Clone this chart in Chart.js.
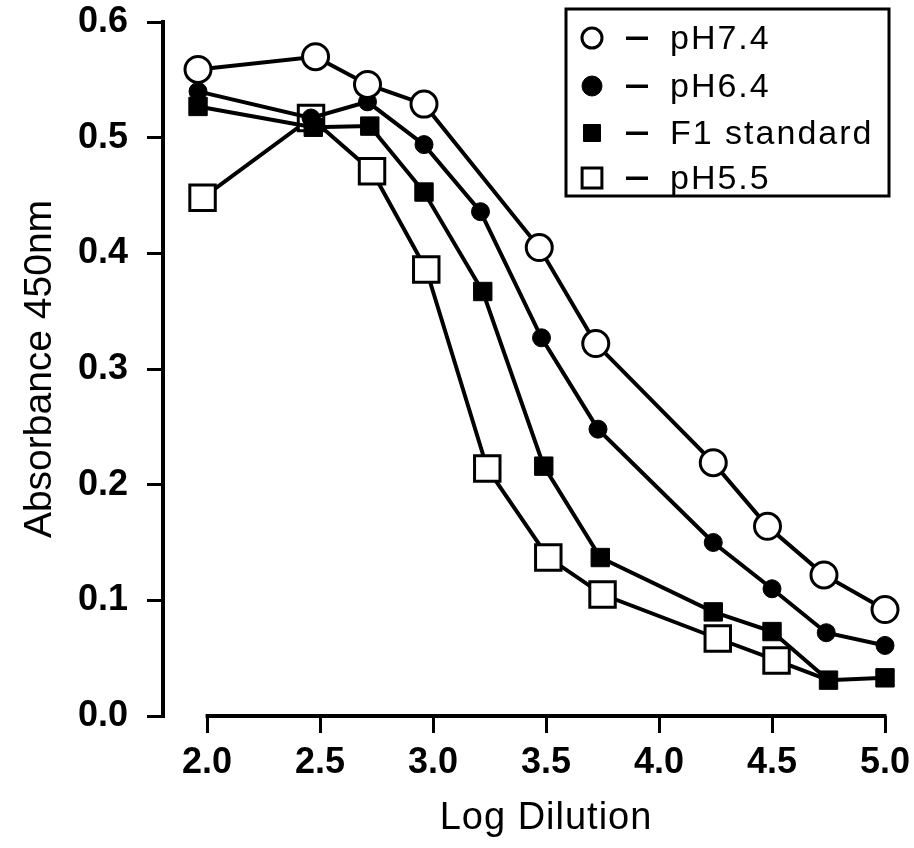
<!DOCTYPE html>
<html>
<head>
<meta charset="utf-8">
<script src="https://cdn.jsdelivr.net/npm/chart.js@4.4.1/dist/chart.umd.min.js"></script>
<style>
  html, body { margin: 0; padding: 0; background: #fff; }
  #wrap { width: 914px; height: 848px; }
</style>
</head>
<body>
<div id="wrap"><canvas id="myChart" width="914" height="848"></canvas></div>
<script>
// tick values
const xTicks = [2.0, 2.5, 3.0, 3.5, 4.0, 4.5, 5.0];
const yTicks = [0.0, 0.1, 0.2, 0.3, 0.4, 0.5, 0.6];

// series (x = log dilution, y = absorbance)
const ph74X = [1.96, 2.48, 2.71, 2.96, 3.47, 3.72, 4.24, 4.48, 4.73, 5.0];
const ph74Y = [0.559, 0.570, 0.546, 0.529, 0.405, 0.322, 0.219, 0.164, 0.122, 0.092];

const ph64X = [1.96, 2.46, 2.71, 2.96, 3.21, 3.48, 3.73, 4.24, 4.50, 4.74, 5.0];
const ph64Y = [0.540, 0.517, 0.531, 0.494, 0.436, 0.327, 0.248, 0.150, 0.110, 0.072, 0.061];

const f1X = [1.96, 2.47, 2.72, 2.96, 3.22, 3.49, 3.74, 4.24, 4.50, 4.75, 5.0];
const f1Y = [0.527, 0.509, 0.510, 0.453, 0.367, 0.216, 0.137, 0.090, 0.073, 0.031, 0.033];

const ph55X = [1.98, 2.46, 2.73, 2.97, 3.24, 3.51, 3.75, 4.26, 4.52, 4.75];
const ph55Y = [0.448, 0.517, 0.471, 0.386, 0.214, 0.137, 0.105, 0.067, 0.048, 0.031];

const seriesLabels = ["pH7.4", "pH6.4", "F1 standard", "pH5.5"];

const pts = (xs, ys) => xs.map((x, i) => ({ x: x, y: ys[i] }));

const data = {
  datasets: [
    {
      label: seriesLabels[0],
      data: pts(ph74X, ph74Y),
      borderColor: "#000",
      borderWidth: 4,
      pointStyle: "circle",
      pointRadius: 13,
      pointBackgroundColor: "#fff",
      pointBorderColor: "#000",
      pointBorderWidth: 3,
    },
    {
      label: seriesLabels[1],
      data: pts(ph64X, ph64Y),
      borderColor: "#000",
      borderWidth: 4,
      pointStyle: "circle",
      pointRadius: 9,
      pointBackgroundColor: "#000",
      pointBorderColor: "#000",
      pointBorderWidth: 1,
    },
    {
      label: seriesLabels[2],
      data: pts(f1X, f1Y),
      borderColor: "#000",
      borderWidth: 4,
      pointStyle: "rect",
      pointRadius: 13,
      pointBackgroundColor: "#000",
      pointBorderColor: "#000",
      pointBorderWidth: 1,
    },
    {
      label: seriesLabels[3],
      data: pts(ph55X, ph55Y),
      borderColor: "#000",
      borderWidth: 4,
      pointStyle: "rect",
      // last point sits under the F1 marker
      pointRadius: (c) => (c.dataIndex === ph55Y.length - 1 ? 0 : 18),
      pointBackgroundColor: "#fff",
      pointBorderColor: "#000",
      pointBorderWidth: 3,
    },
  ],
};

// x axis line (only 2.0 -> 5.0), x title and boxed legend
const decor = {
  id: "decor",
  afterDraw(chart) {
    const ctx = chart.ctx;
    const xs = chart.scales.x;
    const y0 = chart.chartArea.bottom;
    ctx.save();
    ctx.strokeStyle = "#000";
    ctx.lineWidth = 4;
    ctx.beginPath();
    ctx.moveTo(xs.getPixelForValue(xTicks[0]) - 1.5, y0);
    ctx.lineTo(xs.getPixelForValue(xTicks[xTicks.length - 1]) + 1.5, y0);
    ctx.stroke();

    ctx.fillStyle = "#000";
    ctx.font = "38px 'Liberation Sans', Arial, sans-serif";
    ctx.letterSpacing = "1px";
    ctx.textAlign = "center";
    ctx.textBaseline = "alphabetic";
    ctx.fillText("Log Dilution", xs.getPixelForValue(3.5), 829);

    // legend
    ctx.lineWidth = 3;
    ctx.strokeRect(566, 9, 323, 187);
    const rows = [38, 86, 133, 178];
    ctx.font = "34px 'Liberation Sans', Arial, sans-serif";
    ctx.letterSpacing = "2px";
    ctx.textAlign = "left";
    ctx.textBaseline = "middle";
    const styles = [
      { s: "circle", r: 10, fill: "#fff", bw: 3 },
      { s: "circle", r: 10, fill: "#000", bw: 1 },
      { s: "rect", r: 12, fill: "#000", bw: 1 },
      { s: "rect", r: 14, fill: "#fff", bw: 3 },
    ];
    rows.forEach((ry, i) => {
      const st = styles[i];
      ctx.fillStyle = st.fill;
      ctx.strokeStyle = "#000";
      ctx.lineWidth = st.bw;
      Chart.helpers.drawPoint(ctx, { pointStyle: st.s, radius: st.r, borderWidth: st.bw, rotation: 0 }, 592, ry);
      ctx.fillStyle = "#000";
      ctx.fillRect(626, ry - 1.5, 22, 3.5);
      ctx.fillText(seriesLabels[i], 670, ry + 2);
    });
    ctx.restore();
  },
};

const config = {
  type: "line",
  data: data,
  plugins: [decor],
  options: {
    responsive: false,
    animation: false,
    layout: { padding: { top: 22, right: 29, left: 0, bottom: 0 } },
    plugins: {
      legend: { display: false },
      tooltip: { enabled: false },
    },
    elements: { line: { tension: 0 } },
    datasets: { line: { clip: false } },
    scales: {
      x: {
        type: "linear",
        min: 1.805,
        max: 5.0,
        afterBuildTicks: (s) => { s.ticks = xTicks.map((v) => ({ value: v })); },
        afterFit: (s) => { s.height = 132; s.paddingLeft = 0; s.paddingRight = 0; },
        border: { display: false },
        grid: { drawOnChartArea: false, drawTicks: true, tickLength: 17, lineWidth: 3, color: "#000" },
        ticks: {
          color: "#000",
          font: { family: "'Liberation Sans', Arial, sans-serif", size: 36, weight: "bold" },
          padding: 8,
          maxRotation: 0,
          autoSkip: false,
          callback: (v) => Number(v).toFixed(1),
        },
      },
      y: {
        min: 0,
        max: 0.6,
        afterBuildTicks: (s) => { s.ticks = yTicks.map((v) => ({ value: v })); },
        afterFit: (s) => { s.width = 163; s.paddingTop = 0; s.paddingBottom = 0; },
        border: { display: true, color: "#000", width: 4 },
        grid: { drawOnChartArea: false, drawTicks: true, tickLength: 16, lineWidth: 3, color: "#000" },
        title: {
          display: true,
          text: "Absorbance 450nm",
          color: "#000",
          font: { family: "'Liberation Sans', Arial, sans-serif", size: 39 },
          padding: { top: 17, bottom: 0 },
        },
        ticks: {
          color: "#000",
          font: { family: "'Liberation Sans', Arial, sans-serif", size: 36, weight: "bold" },
          padding: 19,
          callback: (v) => Number(v).toFixed(1),
        },
      },
    },
  },
};

const myChart = new Chart(document.getElementById("myChart"), config);
</script>
</body>
</html>
